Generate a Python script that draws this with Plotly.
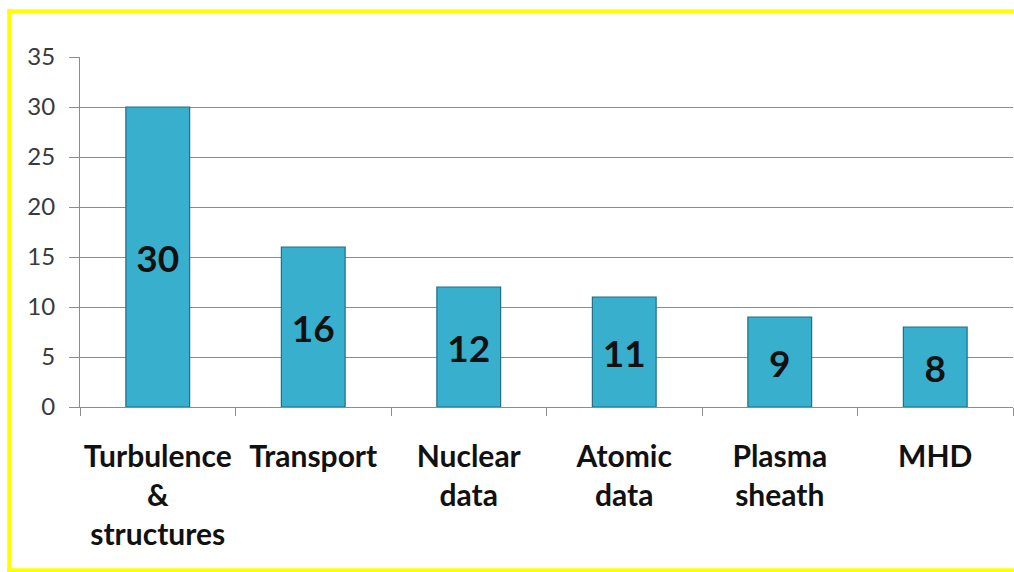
import plotly.graph_objects as go

# Topics and the number of contributions in each
categories = ["Turbulence<br>&<br>structures", "Transport", "Nuclear<br>data",
              "Atomic<br>data", "Plasma<br>sheath", "MHD"]
counts = [30, 16, 12, 11, 9, 8]
y_ticks = [0, 5, 10, 15, 20, 25, 30, 35]

W, H = 1014, 572
ML, MR, MT, MB = 80, 1, 57, 165
PW, PH = W - ML - MR, H - MT - MB

bar_fill = "#38b0cd"
bar_edge = "#1f6f86"

fig = go.Figure()
fig.add_trace(go.Bar(
    x=categories,
    y=counts,
    width=0.41,
    marker=dict(color=bar_fill, line=dict(color=bar_edge, width=1.2)),
    text=[str(v) for v in counts],
    textposition="inside",
    insidetextanchor="middle",
    textangle=0,
    textfont=dict(family="Lato", size=37, color="#111111", weight="bold"),
    constraintext="none",
    hoverinfo="skip",
))


def px_x(px):
    return (px - ML) / PW


def px_y(py):
    return 1 - (py - MT) / PH


# yellow frame: top, left and bottom edges as separate strokes
yellow = dict(color="#ffff00", width=4.5)
shapes = [
    dict(type="line", xref="paper", yref="paper", x0=px_x(7), x1=px_x(W),
         y0=px_y(11.5), y1=px_y(11.5), line=yellow, layer="above"),
    dict(type="line", xref="paper", yref="paper", x0=px_x(9.5), x1=px_x(9.5),
         y0=px_y(9), y1=px_y(572), line=yellow, layer="above"),
    dict(type="line", xref="paper", yref="paper", x0=px_x(7), x1=px_x(W),
         y0=px_y(570.5), y1=px_y(570.5), line=yellow, layer="above"),
]

fig.update_layout(
    width=W, height=H,
    margin=dict(l=ML, r=MR, t=MT, b=MB, autoexpand=False),
    paper_bgcolor="white",
    plot_bgcolor="white",
    showlegend=False,
    shapes=shapes,
    xaxis=dict(
        showgrid=False,
        showline=True, linecolor="#8c8c8c", linewidth=1,
        ticks="outside", tickson="boundaries", ticklen=8, tickcolor="#8c8c8c",
        tickfont=dict(family="Lato", size=30, color="#111111", weight="bold"),
        tickangle=0, automargin=False,
        ticklabelstandoff=23,
    ),
    yaxis=dict(
        range=[0, 35],
        tickvals=y_ticks,
        showgrid=True, gridcolor="#8c8c8c", gridwidth=1,
        showline=True, linecolor="#8c8c8c", linewidth=1,
        ticks="outside", ticklen=10, tickcolor="#8c8c8c",
        tickfont=dict(family="Lato", size=24, color="#3a3a3a"),
        ticklabelstandoff=9, automargin=False,
        zeroline=False,
    ),
)

fig.write_html("out.html")
